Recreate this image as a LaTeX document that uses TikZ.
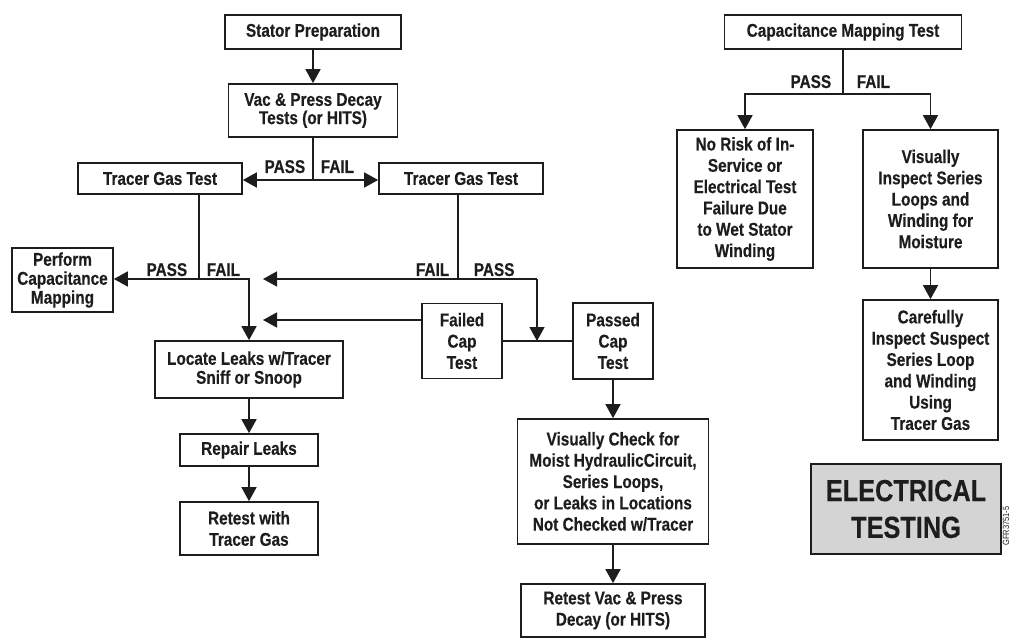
\documentclass[tikz,border=0pt]{standalone}
\usepackage{fontspec}
\setmainfont{Liberation Sans}[FakeStretch=0.83, BoldFeatures={FakeBold=0.3}]
\usepackage{tikz}
\usetikzlibrary{arrows.meta}
\definecolor{elgray}{RGB}{212,212,212}
\definecolor{ink}{RGB}{30,28,29}

\begin{document}
\begin{tikzpicture}[x=1pt, y=-1pt, line width=1.6pt, draw=ink, text=ink,
    box/.style={draw, line width=1.7pt, align=center, inner sep=2pt, font=\bfseries\fontsize{18.5}{21.3}\selectfont},
    tight/.style={font=\bfseries\fontsize{18.5}{16.8}\selectfont},
    mid/.style={font=\bfseries\fontsize{18.5}{19}\selectfont},
    lbl/.style={inner sep=0pt, font=\bfseries\fontsize{18.5}{18}\selectfont},
    arr/.style={-{Triangle[width=15pt,length=14pt]}}]
    \useasboundingbox (0,0) rectangle (1010,639);

    % left chain
    \node[box, minimum width=176, minimum height=34] (stat) at (313,32) {Stator Preparation};
    \node[box, tight, minimum width=169, minimum height=53] (vac) at (313,110.5) {Vac \& Press Decay\\Tests (or HITS)};
    \node[box, minimum width=164, minimum height=31] (tgA) at (160,178.5) {Tracer Gas Test};
    \node[box, minimum width=164, minimum height=31] (tgB) at (461,178.5) {Tracer Gas Test};
    \node[box, mid, minimum width=101, minimum height=64] (perf) at (62.5,280) {Perform\\Capacitance\\Mapping};
    \node[box, mid, minimum width=188, minimum height=57] (loc) at (249,369.5) {Locate Leaks w/Tracer\\Sniff or Snoop};
    \node[box, minimum width=138, minimum height=32] (rep) at (249,450) {Repair Leaks};
    \node[box, minimum width=138, minimum height=53] (rett) at (249,528.5) {Retest with\\Tracer Gas};
    \node[box, minimum width=80, minimum height=75] (fcap) at (462,341) {Failed\\Cap\\Test};
    \node[box, minimum width=80, minimum height=76] (pcap) at (613,341) {Passed\\Cap\\Test};
    \node[box, minimum width=191, minimum height=125] (chk) at (613,481.5) {Visually Check for\\Moist HydraulicCircuit,\\Series Loops,\\or Leaks in Locations\\Not Checked w/Tracer};
    \node[box, minimum width=184, minimum height=53] (retv) at (613,610.5) {Retest Vac \& Press\\Decay (or HITS)};

    % right chain
    \node[box, minimum width=237, minimum height=34] (cap) at (843,32) {Capacitance Mapping Test};
    \node[box, minimum width=136, minimum height=138] (nor) at (745,199) {No Risk of In-\\Service or\\Electrical Test\\Failure Due\\to Wet Stator\\Winding};
    \node[box, minimum width=135, minimum height=138] (ins) at (930.5,199) {Visually\\Inspect Series\\Loops and\\Winding for\\Moisture};
    \node[box, minimum width=135, minimum height=140] (car) at (930.5,370) {Carefully\\Inspect Suspect\\Series Loop\\and Winding\\Using\\Tracer Gas};
    \node[box, fill=elgray, minimum width=190, minimum height=90, font=\bfseries\fontsize{30.5}{36.7}\selectfont] (elec) at (906,509) {ELECTRICAL\\TESTING};
    \node[rotate=90, inner sep=0pt, font=\fontsize{9}{9}\selectfont] (gfr) at (1006,526) {GFR3751-5};

    % junctions
    \coordinate (j1) at (313,180);
    \coordinate (j2) at (199,279);
    \coordinate (j3) at (249,279);
    \coordinate (j4) at (458,279);
    \coordinate (j5) at (537,279);
    \coordinate (j6) at (537,341);
    \coordinate (t1) at (263,279);
    \coordinate (t2) at (263,320);
    \coordinate (k1) at (843,94);

    \draw[arr] (stat) -- (vac);
    \draw (vac) -- (j1);
    \draw[arr] (j1) -- (j1 -| tgA.east);
    \draw[arr] (j1) -- (j1 -| tgB.west);
    \node[lbl, anchor=base east] (pA) at (306,173) {PASS};
    \node[lbl, anchor=base west] (fA) at (320,173) {FAIL};

    \draw (tgA.south -| j2) -- (j2);
    \draw[arr] (j2) -- (j2 -| perf.east);
    \draw[arr] (j2) -- (j3) -- (loc);
    \node[lbl, anchor=base east] (pB) at (188,276) {PASS};
    \node[lbl, anchor=base west] (fB) at (206,276) {FAIL};

    \draw (tgB.south -| j4) -- (j4);
    \draw[arr] (j4) -- (t1);
    \draw (j4) -- (j5);
    \draw[arr] (j5) -- (j6);
    \node[lbl, anchor=base east] (fC) at (450,276) {FAIL};
    \node[lbl, anchor=base west] (pC) at (473,276) {PASS};

    \draw (fcap) -- (pcap);
    \draw[arr] (fcap.west |- t2) -- (t2);
    \draw[arr] (pcap) -- (chk);
    \draw[arr] (chk) -- (retv);
    \draw[arr] (loc) -- (rep);
    \draw[arr] (rep) -- (rett);

    \draw (cap) -- (k1);
    \draw[arr] (k1) -| (nor);
    \draw[arr] (k1) -| (ins);
    \draw[arr] (ins) -- (car);
    \node[lbl, anchor=base east] (pD) at (832,88) {PASS};
    \node[lbl, anchor=base west] (fD) at (856,88) {FAIL};
\end{tikzpicture}
\end{document}
